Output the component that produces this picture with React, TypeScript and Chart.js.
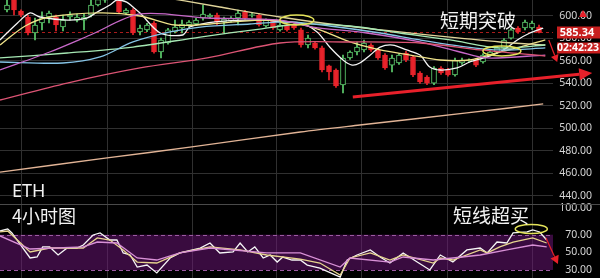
import React, { useEffect, useRef } from "react";
import { Chart, registerables } from "chart.js";

Chart.register(...registerables);

// ---------- DATA ----------
const candleOpen = [605.3, 615.1, 604.4, 599.1, 584.9, 593.8, 599.1, 599.1, 590.2, 599.1, 596.4, 596.4, 600.9, 609.8, 614.0, 618.0, 620.0, 602.7, 605.3, 585.8, 587.6, 593.8, 568.0, 576.0, 585.8, 589.3, 592.0, 592.9, 598.2, 599.1, 600.9, 594.7, 595.6, 598.2, 603.6, 600.5, 600.9, 591.1, 595.6, 587.6, 592.0, 592.0, 587.6, 574.2, 576.0, 571.6, 555.6, 552.0, 538.7, 562.7, 568.0, 569.8, 574.2, 569.8, 565.3, 556.4, 558.2, 567.1, 563.6, 549.3, 545.8, 540.4, 553.8, 552.0, 547.6, 558.2, 560.2, 560.9, 559.1, 565.3, 568.0, 571.6, 580.4, 589.3, 589.3, 589.3, 590.2];
const candleHigh = [614.2, 616.0, 605.5, 600.5, 598.2, 603.6, 604.4, 600.9, 600.9, 603.6, 601.8, 601.8, 614.2, 617.0, 621.0, 624.0, 622.0, 606.5, 606.5, 592.0, 593.5, 595.0, 580.4, 589.0, 596.4, 596.4, 596.0, 598.0, 609.8, 602.0, 602.7, 599.1, 599.5, 605.3, 605.0, 602.5, 602.0, 597.5, 596.5, 593.5, 593.0, 593.0, 589.3, 583.1, 577.0, 573.3, 556.4, 553.0, 565.3, 569.0, 576.9, 578.7, 575.5, 571.0, 566.5, 565.3, 566.5, 568.5, 565.0, 550.5, 547.0, 555.0, 555.0, 553.5, 562.5, 562.7, 562.0, 562.0, 566.5, 569.0, 573.0, 580.0, 589.0, 590.5, 596.4, 595.5, 592.0];
const candleLow = [603.6, 600.9, 599.5, 583.1, 578.7, 587.6, 593.8, 586.7, 586.7, 596.4, 594.7, 587.6, 599.1, 608.9, 612.0, 616.0, 602.0, 601.5, 583.5, 583.1, 586.0, 567.0, 562.7, 575.0, 584.9, 584.9, 590.5, 591.5, 596.4, 598.0, 592.0, 584.9, 594.5, 592.0, 597.0, 599.0, 591.0, 590.0, 588.0, 586.5, 586.5, 588.0, 572.4, 571.6, 570.5, 550.2, 543.1, 536.5, 531.6, 561.5, 565.3, 568.0, 568.5, 561.5, 552.5, 550.2, 557.0, 559.5, 546.0, 540.0, 539.0, 539.0, 548.0, 546.5, 546.5, 557.0, 559.0, 555.0, 558.0, 564.5, 567.0, 570.5, 579.5, 584.5, 587.6, 588.0, 584.9];
const candleClose = [609.8, 605.3, 600.9, 584.9, 592.0, 598.2, 602.7, 592.0, 596.4, 600.9, 599.1, 599.1, 609.8, 614.5, 619.0, 622.0, 603.6, 605.3, 584.9, 589.3, 592.0, 568.0, 578.7, 587.6, 590.2, 592.9, 594.7, 596.4, 601.8, 600.9, 594.7, 597.3, 598.2, 602.7, 598.2, 601.3, 592.0, 596.4, 589.3, 592.0, 587.6, 589.3, 574.2, 580.4, 571.6, 552.0, 550.2, 537.8, 562.7, 568.0, 572.4, 576.0, 569.8, 562.7, 553.8, 562.7, 565.3, 560.9, 547.6, 541.3, 540.4, 553.8, 549.3, 547.6, 560.9, 560.9, 560.9, 556.4, 565.3, 568.0, 571.6, 578.7, 587.6, 585.8, 594.7, 593.8, 585.3];

// moving averages: [candle index, price]
const maWhite: [number, number][] = [[-1, 578.7], [1.5, 593.8], [3.3, 602.7], [4.7, 599.1], [8.6, 596.4], [11.4, 598.2], [12.9, 603.6], [14.7, 609.8], [15.7, 614.2], [17.1, 612.4], [18, 608.0], [19, 602.7], [21.9, 584.9], [25.1, 583.1], [26.1, 590.2], [28.6, 593.8], [31.4, 595.6], [34.3, 596.4], [37.1, 596.4], [39, 594.7], [41.9, 593.8], [44.3, 585.8], [46.1, 572.4], [48, 560.9], [49.3, 556.4], [50.4, 558.2], [51.9, 565.3], [53.3, 572.4], [55.1, 574.2], [57.1, 569.8], [59, 565.3], [60.4, 554.7], [61.9, 552.0], [64.3, 553.8], [66.1, 559.1], [68.6, 563.6], [70.9, 569.8], [72.9, 578.7], [74.7, 584.9], [76.6, 589.3]];
const maYellow: [number, number][] = [[-1, 574.2], [2.6, 591.1], [6.1, 599.1], [13.3, 602.7], [19, 600.0], [24, 592.0], [29, 592.9], [36.1, 596.4], [40.4, 594.7], [44.7, 587.6], [49, 576.9], [53.3, 569.8], [57.6, 565.3], [61.9, 560.9], [66.1, 560.9], [70.4, 568.0], [73.3, 572.4], [76.9, 578.7]];
const maTan: [number, number][] = [[-1, 640.9], [20.4, 618.7], [30.4, 608.0], [39, 599.1], [46.1, 592.9], [56.1, 585.8], [64.7, 580.4], [70.4, 576.9], [76.9, 574.2]];
const maMint: [number, number][] = [[-1, 562.7], [8.6, 567.1], [18, 572.4], [27.6, 581.3], [36.1, 588.4], [41.9, 592.9], [49, 591.1], [56.1, 584.9], [63.3, 578.7], [70.4, 571.6], [76.9, 574.2]];
const maBlue: [number, number][] = [[-1, 559.1], [8, 558.2], [13.3, 563.6], [18, 576.9], [23.3, 585.8], [27.6, 590.2], [34.7, 592.9], [40.4, 594.7], [46.1, 591.1], [53.3, 584.9], [59, 578.7], [64.7, 573.3], [70.4, 569.8], [76.9, 571.6]];
const maMagenta: [number, number][] = [[-1, 552.0], [6.1, 568.0], [11.9, 583.1], [19, 601.8], [28.6, 598.2], [39, 596.4], [43.7, 590.2], [51.4, 584.9], [59, 576.9], [64.7, 568.0], [68.6, 562.7], [76.9, 565.3]];
const maSalmon: [number, number][] = [[-1, 525.3], [8.6, 540.4], [19, 553.8], [28.6, 562.7], [39, 576.0], [49, 576.9], [59, 576.0], [67.6, 569.8], [76.9, 564.4]];
const maPeach: [number, number][] = [[-1, 461.3], [14.3, 473.8], [26.4, 483.6], [41.9, 496.9], [50.4, 503.1], [65.7, 513.8], [76.6, 521.8]];

// RSI: [candle index, value]
const rsiWhite: [number, number][] = [[-1, 74.2], [0.1, 76.5], [0.7, 72.0], [3.3, 43.6], [4.3, 44.7], [5.1, 56.1], [6.1, 56.1], [7.3, 47.0], [8.6, 54.9], [10, 54.9], [10.9, 58.3], [12.3, 69.7], [13.3, 72.0], [14.7, 64.0], [15.7, 64.0], [16.6, 49.3], [17.6, 47.0], [18.6, 33.3], [20, 35.6], [21.4, 26.6], [23.3, 43.6], [24.7, 49.3], [27.6, 54.9], [29, 60.6], [30.4, 49.3], [32.3, 50.4], [33.3, 60.6], [34.4, 50.4], [35.4, 56.1], [36.6, 43.6], [37.6, 47.0], [38.6, 39.0], [39.4, 44.7], [40.7, 41.3], [41.9, 41.3], [42.9, 35.6], [44.7, 32.2], [47.6, 22.0], [48.6, 41.3], [50, 47.0], [51.9, 52.7], [53.3, 44.7], [54.7, 37.9], [56.6, 49.3], [58.6, 39.0], [60.4, 30.0], [61.9, 47.0], [63.7, 39.0], [65.7, 52.7], [67.6, 54.9], [68.6, 49.3], [70, 61.7], [71.4, 60.6], [72.3, 72.0], [74.3, 73.1], [75.1, 75.4], [76.1, 73.1], [77.1, 64.0]];
const rsiYellow: [number, number][] = [[-1, 73.1], [0.1, 74.2], [3.3, 50.4], [6.1, 54.9], [10.9, 54.9], [12.9, 66.3], [14.7, 64.0], [16.6, 52.7], [18.6, 39.0], [21.4, 37.9], [24.7, 49.3], [29, 56.1], [33.3, 52.7], [37.1, 47.0], [41.9, 42.4], [44.7, 37.9], [47.6, 24.3], [49, 43.6], [51.9, 49.3], [54.7, 41.3], [56.6, 47.0], [60.9, 37.9], [61.9, 43.6], [63.7, 41.3], [67.6, 52.7], [68.6, 49.3], [70.4, 56.1], [72.3, 61.7], [75.1, 66.3], [77.1, 60.6]];
const rsiPink: [number, number][] = [[-1, 68.6], [3.3, 53.8], [10.9, 56.1], [12.9, 61.7], [15.7, 60.6], [18.6, 43.6], [21.4, 41.3], [24.7, 49.3], [29, 54.9], [37.1, 49.3], [41.9, 49.3], [47.6, 33.3], [49, 43.6], [54.7, 39.0], [56.6, 44.7], [60.9, 41.3], [63.7, 43.6], [67.6, 47.0], [71.4, 52.7], [75.1, 58.3], [77.1, 56.1]];

const priceTicks = [440, 460, 480, 500, 520, 540, 560, 580, 600];
const rsiTicks = [30, 50, 70, 100];
const rsiBand = [30, 70];
const gridIndex = [2.14, 14.29, 26.43, 38.57, 50.71, 62.86, 75.0];
const lastPrice = 585.34;
const countdown = "02:42:23";

const UP = "#5fd06f";
const DOWN = "#e8232b";

function toXY(arr: [number, number][]) {
  return arr.map(([x, y]) => ({ x, y }));
}

function drawArrow(ctx: CanvasRenderingContext2D, x1: number, y1: number, x2: number, y2: number, w: number, head: number, hw: number) {
  const a = Math.atan2(y2 - y1, x2 - x1);
  const bx = x2 - head * Math.cos(a);
  const by = y2 - head * Math.sin(a);
  ctx.beginPath();
  ctx.moveTo(x1, y1);
  ctx.lineTo(bx, by);
  ctx.lineWidth = w;
  ctx.stroke();
  ctx.beginPath();
  ctx.moveTo(x2, y2);
  ctx.lineTo(bx + hw * Math.sin(a), by - hw * Math.cos(a));
  ctx.lineTo(bx - hw * Math.sin(a), by + hw * Math.cos(a));
  ctx.closePath();
  ctx.fill();
}

export default function App() {
  const ref = useRef<HTMLCanvasElement>(null);

  useEffect(() => {
    if (!ref.current) return;
    Chart.defaults.font.family = "'Noto Sans', sans-serif";

    const bodies = candleOpen.map((o, i) => ({ x: i, y: [o, candleClose[i]] }));
    const wicks = candleOpen.map((o, i) => ({ x: i, y: [candleLow[i], candleHigh[i]] }));
    const isUp = candleOpen.map((o, i) => candleClose[i] >= o);

    const line = (data: [number, number][], color: string, axis: string, tension: number) => ({
      type: "line" as const,
      data: toXY(data),
      borderColor: color,
      borderWidth: 1.3,
      pointRadius: 0,
      tension,
      yAxisID: axis,
      order: 0,
    });

    const deco = {
      id: "deco",
      beforeDraw(chart: any) {
        const { ctx, width, height } = chart;
        ctx.save();
        ctx.fillStyle = "#000";
        ctx.fillRect(0, 0, width, height);
        ctx.restore();
      },
      beforeDatasetsDraw(chart: any) {
        const { ctx, chartArea } = chart;
        const y = chart.scales.y;
        const y2 = chart.scales.y2;
        ctx.save();
        const top = y2.getPixelForValue(rsiBand[1]);
        const bot = y2.getPixelForValue(rsiBand[0]);
        ctx.fillStyle = "rgba(110,22,120,0.52)";
        ctx.fillRect(chartArea.left, top, chartArea.right - chartArea.left, bot - top);
        ctx.strokeStyle = "#9c5aa2";
        ctx.lineWidth = 1;
        ctx.setLineDash([4, 3]);
        [top, bot].forEach((p) => {
          ctx.beginPath();
          ctx.moveTo(chartArea.left, Math.round(p) + 0.5);
          ctx.lineTo(chartArea.right, Math.round(p) + 0.5);
          ctx.stroke();
        });
        const py = Math.round(y.getPixelForValue(lastPrice)) + 0.5;
        ctx.strokeStyle = "#a81c1c";
        ctx.setLineDash([3, 3]);
        ctx.beginPath();
        ctx.moveTo(chartArea.left, py);
        ctx.lineTo(chartArea.right, py);
        ctx.stroke();
        ctx.setLineDash([]);
        ctx.strokeStyle = "#4a4a4a";
        ctx.beginPath();
        ctx.moveTo(0, Math.round(y.bottom) - 0.5);
        ctx.lineTo(chart.width, Math.round(y.bottom) - 0.5);
        ctx.stroke();
        ctx.restore();
      },
      afterDraw(chart: any) {
        const { ctx } = chart;
        const x = chart.scales.x;
        const y = chart.scales.y;
        const y2 = chart.scales.y2;
        ctx.save();
        ctx.strokeStyle = "#e4e35a";
        ctx.lineWidth = 1.5;
        const ell = (cx: number, cy: number, rx: number, ry: number) => {
          ctx.beginPath();
          ctx.ellipse(cx, cy, rx, ry, 0, 0, Math.PI * 2);
          ctx.stroke();
        };
        ell(x.getPixelForValue(41.4), y.getPixelForValue(596.4), 17, 5);
        ell(x.getPixelForValue(70.7), y.getPixelForValue(568.9), 19, 5);
        ell(x.getPixelForValue(74.9), y2.getPixelForValue(76.5), 16, 4.5);

        ctx.strokeStyle = "#e8202a";
        ctx.fillStyle = "#e8202a";
        drawArrow(ctx, x.getPixelForValue(49.4), y.getPixelForValue(528.0), x.getPixelForValue(83.6), y.getPixelForValue(549.3), 3, 13, 6);
        drawArrow(ctx, x.getPixelForValue(77.4), y.getPixelForValue(578.7), x.getPixelForValue(78.6), y.getPixelForValue(559.1), 1.2, 7, 4);
        drawArrow(ctx, x.getPixelForValue(77.0), y2.getPixelForValue(66.3), x.getPixelForValue(78.7), y2.getPixelForValue(36.8), 1.2, 8, 4.5);

        const py = y.getPixelForValue(lastPrice);
        ctx.fillStyle = "#c81f1f";
        ctx.fillRect(557, py - 6, 43, 12);
        ctx.fillRect(557, py + 10, 43, 11);
        ctx.fillStyle = "#e8202a";
        ctx.beginPath();
        ctx.moveTo(583, 10);
        ctx.lineTo(579, 17);
        ctx.lineTo(587, 17);
        ctx.closePath();
        ctx.fill();
        ctx.fillStyle = "#ffffff";
        ctx.font = "bold 11px 'Noto Sans', sans-serif";
        ctx.textAlign = "center";
        ctx.textBaseline = "middle";
        ctx.fillText(lastPrice.toFixed(2), 577, py + 0.5);
        ctx.font = "bold 10.5px 'Noto Sans', sans-serif";
        ctx.fillText(countdown, 578, py + 15.5);

        ctx.textAlign = "left";
        ctx.fillStyle = "#f2f2f2";
        ctx.font = "19px 'Noto Sans CJK SC', sans-serif";
        ctx.fillText("短期突破", 440, 21);
        ctx.fillText("短线超买", 453, 216);
        ctx.font = "18px 'Noto Sans', 'Noto Sans CJK SC', sans-serif";
        ctx.fillText("ETH", 12, 192);
        ctx.font = "18px 'Noto Sans CJK SC', sans-serif";
        ctx.fillText("4小时图", 12, 216);
        ctx.restore();
      },
    };

    const tickFont = { size: 10.5, family: "'Noto Sans', sans-serif" };

    const chart = new Chart(ref.current, {
      type: "bar",
      data: {
        datasets: [
          {
            type: "bar",
            data: wicks as any,
            backgroundColor: isUp.map((u) => (u ? UP : DOWN)),
            borderWidth: 0,
            barThickness: 1,
            grouped: false,
            yAxisID: "y",
            order: 3,
          },
          {
            type: "bar",
            data: bodies as any,
            backgroundColor: isUp.map((u) => (u ? "#000000" : DOWN)),
            borderColor: isUp.map((u) => (u ? UP : DOWN)),
            borderWidth: 1,
            borderSkipped: false,
            barThickness: 5,
            grouped: false,
            yAxisID: "y",
            order: 2,
          },
          line(maPeach, "#e2b496", "y", 0.3),
          line(maSalmon, "#dc5474", "y", 0.3),
          line(maMagenta, "#c768c8", "y", 0.3),
          line(maBlue, "#86c4e6", "y", 0.3),
          line(maMint, "#a6e8b4", "y", 0.3),
          line(maTan, "#e0d49a", "y", 0.3),
          line(maYellow, "#efe28a", "y", 0.3),
          line(maWhite, "#f4f4f4", "y", 0.3),
          line(rsiPink, "#d890d6", "y2", 0),
          line(rsiYellow, "#e6d48e", "y2", 0),
          line(rsiWhite, "#f6f6f6", "y2", 0),
        ] as any,
      },
      options: {
        responsive: false,
        animation: false,
        devicePixelRatio: 1,
        events: [],
        layout: { autoPadding: false, padding: { left: 0, top: 0, bottom: 0, right: 8 } } as any,
        plugins: { legend: { display: false }, tooltip: { enabled: false } },
        scales: {
          x: {
            type: "linear",
            min: -1,
            max: 78,
            offset: false,
            afterBuildTicks: (s: any) => {
              s.ticks = gridIndex.map((v) => ({ value: v }));
            },
            afterFit: (s: any) => {
              s.height = 0;
            },
            ticks: { display: false, autoSkip: false },
            grid: { color: "#303030", drawTicks: false, offset: false },
            border: { display: false },
          },
          y: {
            type: "linear",
            position: "right",
            stack: "panels",
            stackWeight: 205,
            min: 432,
            max: 614.22,
            afterBuildTicks: (s: any) => {
              s.ticks = priceTicks.map((v) => ({ value: v }));
            },
            afterFit: (s: any) => {
              s.width = 39;
              s.paddingTop = 0;
              s.paddingBottom = 0;
            },
            ticks: {
              color: "#d4d4d4",
              font: tickFont,
              padding: 8,
              crossAlign: "far",
              autoSkip: false,
              callback: (v: any) => Number(v).toFixed(2),
            },
            grid: { color: "#303030", drawTicks: false },
            border: { display: false },
          },
          y2: {
            type: "linear",
            position: "right",
            stack: "panels",
            stackWeight: 73,
            min: 20.9,
            max: 103.7,
            afterBuildTicks: (s: any) => {
              s.ticks = rsiTicks.map((v) => ({ value: v }));
            },
            afterFit: (s: any) => {
              s.width = 39;
              s.paddingTop = 0;
              s.paddingBottom = 0;
            },
            ticks: {
              color: "#d4d4d4",
              font: tickFont,
              padding: 8,
              crossAlign: "far",
              autoSkip: false,
              callback: (v: any) => Number(v).toFixed(2),
            },
            grid: { display: false },
            border: { display: false },
          },
        } as any,
      },
      plugins: [deco],
    });

    return () => chart.destroy();
  }, []);

  return (
    <div style={{ position: "fixed", left: 0, top: 0, width: 600, height: 278, background: "#000" }}>
      <canvas ref={ref} width={600} height={278} style={{ display: "block", width: 600, height: 278 }} />
    </div>
  );
}
